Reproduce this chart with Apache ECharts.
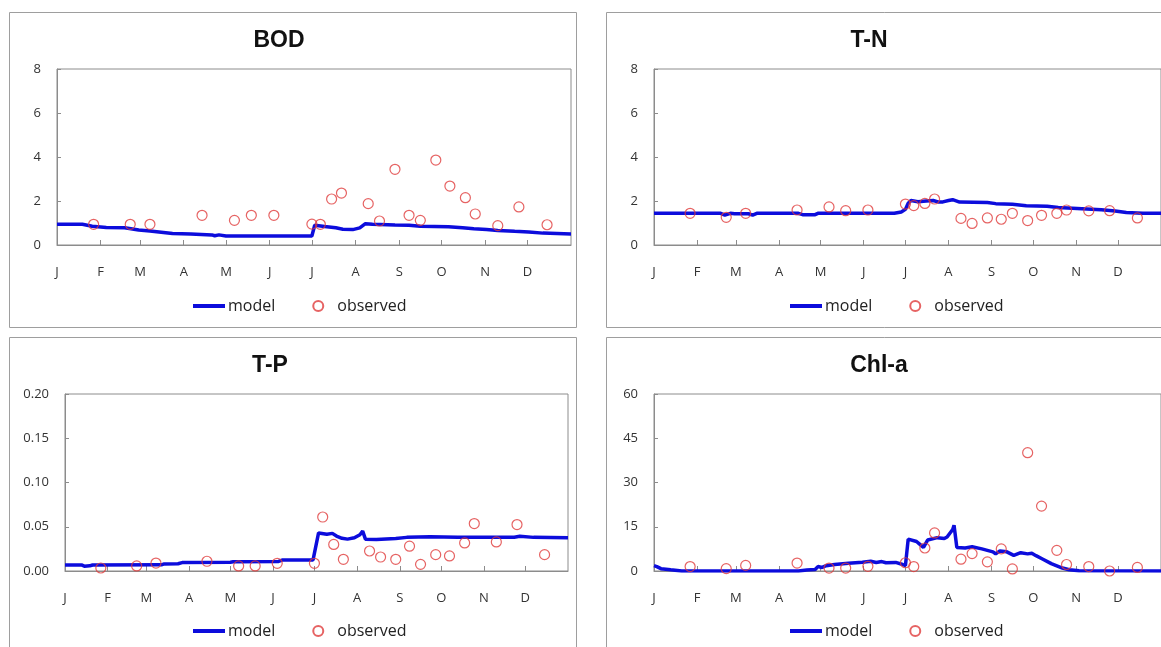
<!DOCTYPE html>
<html lang="en">
<head>
<meta charset="UTF-8">
<title>Model vs observed</title>
<script src="https://cdn.jsdelivr.net/npm/echarts@6.0.0/dist/echarts.min.js"></script>
<style>
  html, body { margin: 0; padding: 0; background: #fff; overflow: hidden; }
  #chart { width: 1161px; height: 647px; }
</style>
</head>
<body>
<div id="chart"></div>
<script>
// x axis: day of year, one tick per month start
var monthStarts = [0, 31, 59, 90, 120, 151, 181, 212, 243, 273, 304, 334];
var monthLetters = ['J', 'F', 'M', 'A', 'M', 'J', 'J', 'A', 'S', 'O', 'N', 'D'];

// sampling days shared by all observed series
var sampleDays = [26, 52, 66, 103, 126, 138, 154, 181, 187, 195, 202, 221, 229, 240, 250, 258, 269, 279, 290, 297, 313, 328, 348];

// BOD
var bodObserved = [0.94, 0.94, 0.94, 1.35, 1.12, 1.35, 1.35, 0.95, 0.94, 2.09, 2.36, 1.88, 1.09, 3.44, 1.35, 1.12, 3.86, 2.68, 2.15, 1.41, 0.88, 1.73, 0.92];
var bodModelDays = [0, 18, 25, 35, 48, 58, 66, 74, 82, 95, 110, 112, 115, 120, 181, 183, 190, 198, 203, 210, 215, 219, 224, 240, 250, 258, 278, 288, 296, 305, 313, 325, 335, 345, 365];
var bodModel = [0.94, 0.94, 0.85, 0.80, 0.78, 0.68, 0.64, 0.58, 0.52, 0.50, 0.46, 0.42, 0.46, 0.41, 0.41, 0.90, 0.84, 0.78, 0.72, 0.70, 0.78, 0.97, 0.94, 0.91, 0.90, 0.85, 0.83, 0.78, 0.74, 0.70, 0.66, 0.62, 0.59, 0.54, 0.50];

// T-N
var tnObserved = [1.44, 1.26, 1.44, 1.59, 1.73, 1.56, 1.59, 1.86, 1.79, 1.89, 2.09, 1.21, 0.98, 1.23, 1.17, 1.44, 1.11, 1.35, 1.44, 1.59, 1.55, 1.56, 1.23];
var tnModelDays = [0, 48, 51, 55, 58, 68, 71, 74, 104, 107, 116, 118, 173, 178, 181, 183, 185, 190, 196, 201, 205, 208, 212, 215, 220, 240, 246, 258, 268, 283, 291, 308, 322, 332, 340, 352, 365];
var tnModel = [1.44, 1.44, 1.36, 1.44, 1.42, 1.42, 1.36, 1.44, 1.44, 1.38, 1.38, 1.44, 1.44, 1.50, 1.62, 1.90, 2.02, 1.97, 2.00, 2.02, 1.95, 1.96, 2.02, 2.06, 1.95, 1.93, 1.88, 1.85, 1.78, 1.76, 1.70, 1.65, 1.60, 1.55, 1.48, 1.44, 1.44];

// T-P
var tpObserved = [0.0034, 0.0057, 0.009, 0.011, 0.0057, 0.0057, 0.0087, 0.0087, 0.061, 0.030, 0.0132, 0.0226, 0.0158, 0.0132, 0.028, 0.0075, 0.0185, 0.017, 0.0317, 0.0536, 0.0328, 0.0525, 0.0185];
var tpModelDays = [0, 12, 14, 18, 20, 70, 72, 82, 85, 120, 122, 155, 158, 180, 184, 190, 194, 197, 201, 205, 210, 214, 216, 218, 226, 240, 248, 265, 285, 326, 330, 340, 365];
var tpModel = [0.0068, 0.0068, 0.0055, 0.0058, 0.0068, 0.0070, 0.0080, 0.0082, 0.0095, 0.0100, 0.0105, 0.0108, 0.0125, 0.0125, 0.0430, 0.0415, 0.0425, 0.0395, 0.0370, 0.0360, 0.0375, 0.0410, 0.0450, 0.0360, 0.0355, 0.0368, 0.0380, 0.0388, 0.0380, 0.0382, 0.0392, 0.0380, 0.0375];

// Chl-a
var chlObserved = [1.5, 0.8, 1.9, 2.7, 1.0, 1.0, 1.6, 2.8, 1.5, 7.8, 12.9, 4.0, 5.9, 3.1, 7.5, 0.7, 40.1, 22.0, 7.0, 2.2, 1.5, 0.0, 1.2];
var chlModelDays = [0, 2, 5, 12, 20, 104, 110, 116, 118, 121, 124, 130, 140, 150, 156, 160, 164, 167, 174, 179, 181, 183, 184, 189, 191, 194, 197, 204, 209, 211, 213, 215, 216, 218, 224, 229, 236, 244, 246, 249, 254, 259, 264, 269, 272, 275, 280, 286, 294, 299, 306, 365];
var chlModel = [1.8, 1.5, 0.8, 0.4, 0.0, 0.0, 0.3, 0.5, 1.5, 1.2, 1.8, 2.2, 2.6, 3.0, 3.3, 2.9, 3.2, 2.8, 2.9, 2.2, 1.8, 10.8, 10.5, 10.0, 9.2, 8.0, 10.5, 11.3, 11.0, 11.5, 12.8, 14.0, 15.5, 8.0, 7.8, 8.2, 7.5, 6.5, 5.8, 6.8, 6.5, 5.3, 6.2, 5.8, 6.0, 5.2, 4.0, 2.5, 1.0, 0.4, 0.1, 0.0];

function zip(xs, ys) {
    return xs.map(function (x, i) { return [x, ys[i]]; });
}

// panel layout (pixels)
var panels = [
    { title: 'BOD', days: bodModelDays, model: bodModel, obs: bodObserved,
      box: [9.5, 12.5, 567, 315], grid: { left: 57, top: 69, width: 514, height: 176 },
      titleX: 274, titleY: 24, legendX: 191, legendY: 298, max: 8, step: 2, digits: 0 },
    { title: 'T-N', days: tnModelDays, model: tnModel, obs: tnObserved,
      box: [606.5, 12.5, 600, 315], grid: { left: 654, top: 69, width: 517, height: 176 },
      titleX: 864, titleY: 24, legendX: 788, legendY: 298, max: 8, step: 2, digits: 0 },
    { title: 'T-P', days: tpModelDays, model: tpModel, obs: tpObserved,
      box: [9.5, 337.5, 567, 330], grid: { left: 65, top: 394, width: 503, height: 177 },
      titleX: 265, titleY: 349, legendX: 191, legendY: 623, max: 0.2, step: 0.05, digits: 2 },
    { title: 'Chl-a', days: chlModelDays, model: chlModel, obs: chlObserved,
      box: [606.5, 337.5, 600, 330], grid: { left: 654, top: 394, width: 517, height: 177 },
      titleX: 874, titleY: 349, legendX: 788, legendY: 623, max: 60, step: 15, digits: 0 }
];

var labelFont = 'Open Sans';
var axisGray = '#8c8c8c';
var modelBlue = '#0c0cdc';

var option = {
    backgroundColor: '#fff',
    animation: false,
    title: [], grid: [], xAxis: [], yAxis: [], legend: [], series: [],
    graphic: []
};

panels.forEach(function (p, i) {
    option.graphic.push({
        type: 'rect', silent: true, z: 0,
        shape: { x: p.box[0], y: p.box[1], width: p.box[2], height: p.box[3] },
        style: { fill: 'none', stroke: '#9e9e9e', lineWidth: 1 }
    });
    option.title.push({
        text: p.title, left: p.titleX, top: p.titleY, textAlign: 'center',
        textStyle: { fontFamily: 'Liberation Sans', fontWeight: 'bold', fontSize: 23, color: '#111' }
    });
    option.grid.push({
        left: p.grid.left, top: p.grid.top, width: p.grid.width, height: p.grid.height,
        show: true, borderColor: axisGray, borderWidth: 1, backgroundColor: '#fff'
    });
    option.xAxis.push({
        type: 'value', gridIndex: i, min: 0, max: 365,
        axisLine: { show: true, lineStyle: { color: axisGray } },
        axisTick: { show: true, inside: true, length: 5, customValues: monthStarts, lineStyle: { color: axisGray } },
        axisLabel: {
            customValues: monthStarts, margin: 21, fontSize: 13, fontFamily: labelFont, color: '#333',
            formatter: function (v) { return monthLetters[monthStarts.indexOf(v)]; }
        },
        splitLine: { show: false }
    });
    option.yAxis.push({
        type: 'value', gridIndex: i, min: 0, max: p.max, interval: p.step,
        axisLine: { show: true, lineStyle: { color: axisGray } },
        axisTick: { show: true, inside: true, length: 4, lineStyle: { color: axisGray } },
        axisLabel: {
            margin: 16, fontSize: 13, fontFamily: labelFont, color: '#333',
            formatter: function (v) { return v.toFixed(p.digits); }
        },
        splitLine: { show: false }
    });
    option.legend.push({
        left: p.legendX, top: p.legendY,
        data: [
            // plain thick line icon, no dot
            { name: 'model', lineStyle: { width: 4 },
              itemStyle: { color: 'rgba(0,0,0,0)', borderColor: 'rgba(0,0,0,0)', borderWidth: 0 } },
            'observed'
        ],
        itemWidth: 32, itemHeight: 10, itemGap: 37, padding: 0,
        textStyle: { fontFamily: labelFont, fontSize: 16, color: '#222', padding: [0, 0, 0, -2] },
        selectedMode: false
    });
    option.series.push({
        name: 'model', type: 'line', xAxisIndex: i, yAxisIndex: i,
        data: zip(p.days, p.model), symbol: 'none',
        lineStyle: { color: modelBlue, width: 3.5 }, itemStyle: { color: modelBlue }, z: 2
    });
    option.series.push({
        name: 'observed', type: 'scatter', xAxisIndex: i, yAxisIndex: i,
        data: zip(sampleDays, p.obs), symbol: 'circle', symbolSize: 10,
        itemStyle: { color: 'rgba(255,255,255,0)', borderColor: '#e03c3c', borderWidth: 1.2 }, z: 3
    });
});

var chart = echarts.init(document.getElementById('chart'));
chart.setOption(option);
</script>
</body>
</html>
